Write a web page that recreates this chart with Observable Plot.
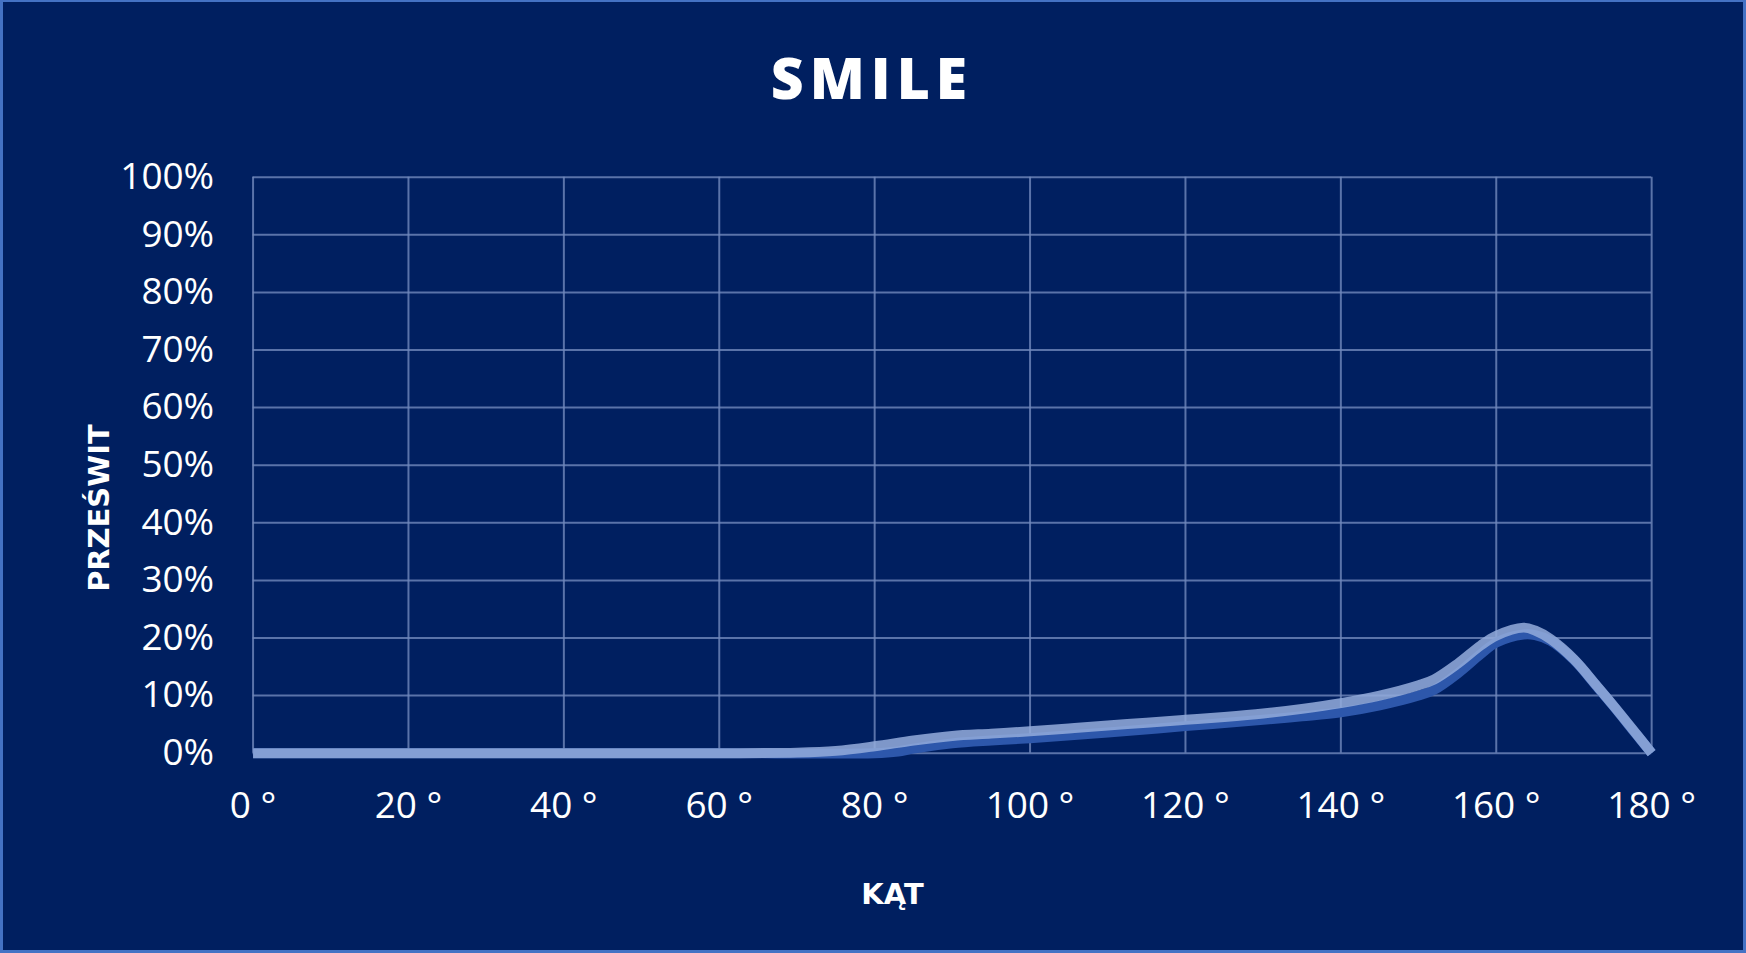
<!DOCTYPE html>
<html>
<head>
<meta charset="utf-8">
<script src="https://cdn.jsdelivr.net/npm/d3@7"></script>
<script src="https://cdn.jsdelivr.net/npm/@observablehq/plot@0.6"></script>
<style>
  html, body { margin: 0; padding: 0; background: #001f60; }
  #wrap { position: relative; width: 1746px; height: 953px; background: #001f60; overflow: hidden; box-sizing: border-box; border-style: solid; border-color: #4472c4; border-width: 2px 3px 3px 3px; }
  #title { position: absolute; left: 0; top: 47px; width: 1740px; text-align: center; font-family: "Open Sans", sans-serif; font-weight: 800; font-size: 57px; line-height: 1; color: #ffffff; letter-spacing: 6px; text-indent: -2px; }
  #gap { position: absolute; left: 743px; width: 336px; bottom: -3px; height: 3px; background: #001f60; }
  #chart { position: absolute; left: -3px; top: -2px; }
</style>
</head>
<body>
<div id="wrap">
  <div id="chart"></div>
  <div id="title">SMILE</div>
  <div id="gap"></div>
</div>
<script>
// Angle (degrees) and transmission (%)
const lightAngles = [0, 20, 40, 60, 70, 75, 80, 85, 90, 95, 100, 105, 110, 115, 120, 125, 130, 135, 140, 145, 150, 152, 155, 158, 160, 163.5, 165, 167, 170, 173, 175, 178, 180];
const lightValues = [0, 0, 0, 0, 0.1, 0.4, 1.2, 2.2, 3.0, 3.4, 3.8, 4.3, 4.8, 5.3, 5.8, 6.3, 6.9, 7.7, 8.7, 10.0, 11.8, 12.8, 15.5, 18.7, 20.4, 21.8, 21.3, 19.8, 16.3, 11.6, 8.4, 3.4, 0];
const darkAngles = [0, 20, 40, 60, 80, 83, 85, 90, 95, 100, 110, 120, 130, 135, 140, 145, 150, 152, 155, 158, 160, 163.5, 165, 167, 170, 173, 175, 178, 180];
const darkValues = [0, 0, 0, 0, 0, 0.3, 0.8, 1.7, 2.2, 2.6, 3.6, 4.7, 5.8, 6.4, 7.1, 8.3, 10.0, 11.0, 13.8, 17.2, 19.2, 20.6, 20.5, 19.5, 16.2, 11.5, 8.3, 3.3, 0];
const xTicks = [0, 20, 40, 60, 80, 100, 120, 140, 160, 180];
const yTicks = [0, 10, 20, 30, 40, 50, 60, 70, 80, 90, 100];
const title = "SMILE";
const xLabel = "KĄT";
const yLabel = "PRZEŚWIT";

const light = lightAngles.map((a, i) => ({angle: a, value: lightValues[i]}));
const dark = darkAngles.map((a, i) => ({angle: a, value: darkValues[i]}));

const tickFont = "'Open Sans', sans-serif";

const chart = Plot.plot({
  width: 1746,
  height: 953,
  marginLeft: 253,
  marginRight: 92,
  marginTop: 177,
  marginBottom: 199,
  style: { background: "transparent", color: "#ffffff", fontFamily: tickFont, fontSize: "37px", overflow: "visible" },
  x: { domain: [0, 180] },
  y: { domain: [0, 100] },
  marks: [
    Plot.gridX(xTicks, { stroke: "#7088bc", strokeOpacity: 0.8, strokeWidth: 2 }),
    Plot.gridY(yTicks, { stroke: "#7088bc", strokeOpacity: 0.8, strokeWidth: 2 }),
    Plot.axisX(xTicks, { tickSize: 0, tickPadding: 39, tickFormat: d => d + " °", label: null, fill: "#ffffff", fontSize: 37 }),
    Plot.axisY(yTicks, { tickSize: 0, tickPadding: 39, tickFormat: d => d + "%", label: null, fill: "#ffffff", fontSize: 37 }),
    Plot.line(dark, { x: "angle", y: "value", stroke: "#2d57ab", strokeWidth: 10, curve: "catmull-rom", strokeLinecap: "butt" }),
    Plot.line(light, { x: "angle", y: "value", stroke: "#93abdb", strokeOpacity: 0.86, strokeWidth: 10, curve: "catmull-rom", strokeLinecap: "butt" }),
    Plot.text([xLabel], { frameAnchor: "bottom", text: d => d, dx: -60, dy: 142, fill: "#ffffff", fontFamily: "'DejaVu Sans', sans-serif", fontWeight: "bold", fontSize: 29, lineAnchor: "middle", textAnchor: "middle" }),
    Plot.text([yLabel], { frameAnchor: "left", text: d => d, dx: -154, dy: 43, rotate: -90, fill: "#ffffff", fontFamily: "'DejaVu Sans', sans-serif", fontWeight: "bold", fontSize: 29, lineAnchor: "middle", textAnchor: "middle" })
  ]
});
document.getElementById("chart").appendChild(chart);
document.getElementById("title").textContent = title;
</script>
</body>
</html>
